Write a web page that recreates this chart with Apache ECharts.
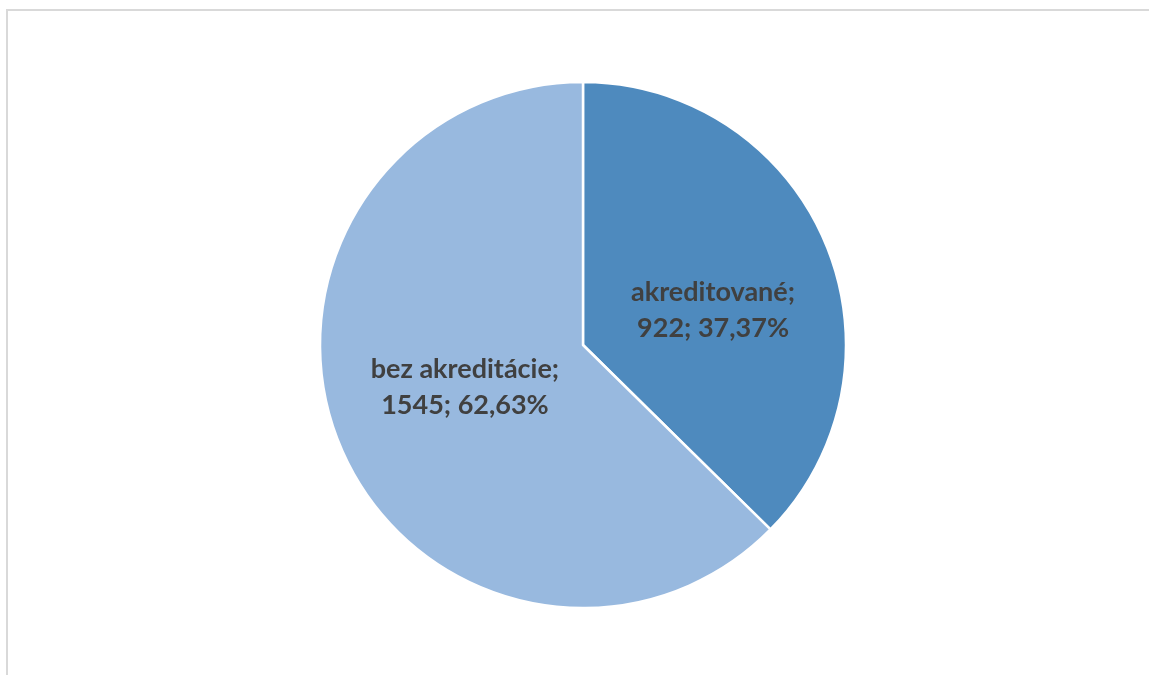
<!DOCTYPE html>
<html><head><meta charset="utf-8">
<script src="https://cdn.jsdelivr.net/npm/echarts@6/dist/echarts.min.js"></script>
<style>html,body{margin:0;padding:0;background:#fff}#c{width:1149px;height:675px}</style>
</head><body><div id="c"></div>
<script>
const categories = ['akreditované', 'bez akreditácie'];
const values = [922, 1545];
const percentLabels = ['37,37%', '62,63%'];
const colors = ['#4E8ABE', '#98B9DF'];
const labelOffsets = [[6, 17], [6, -10]];

const chart = echarts.init(document.getElementById('c'));
chart.setOption({
  animation: false,
  graphic: [{
    type: 'rect', shape: {x: 7, y: 10, width: 1300, height: 800},
    style: {fill: 'none', stroke: '#d9d9d9', lineWidth: 2}, silent: true
  }],
  series: [{
    type: 'pie',
    center: [583, 345],
    radius: [0, 263],
    startAngle: 90,
    clockwise: true,
    itemStyle: {borderColor: '#fff', borderWidth: 2.5},
    label: {
      show: true, position: 'inside',
      color: '#404040', fontWeight: 'bold', fontSize: 27,
      fontFamily: 'Lato', lineHeight: 36,
      formatter: p => p.name + ';\n' + p.value + '; ' + percentLabels[p.dataIndex]
    },
    labelLine: {show: false},
    data: categories.map((c, i) => ({
      name: c, value: values[i],
      itemStyle: {color: colors[i]},
      label: {offset: labelOffsets[i]}
    }))
  }]
});
</script></body></html>
